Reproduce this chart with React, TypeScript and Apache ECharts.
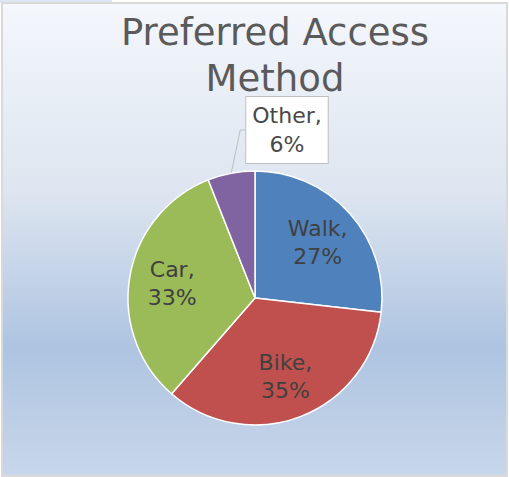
import React, { useEffect, useRef } from "react";
import * as echarts from "echarts";

const categories = ["Walk", "Bike", "Car", "Other"];
const values = [26.8, 34.6, 32.6, 6.0];
const colors = ["#4f81bd", "#c0504d", "#9bbb59", "#8064a2"];
const titleText = "Preferred Access\nMethod";

const FONT = "'DejaVu Sans', sans-serif";

export default function App() {
  const ref = useRef<HTMLDivElement>(null);
  useEffect(() => {
    if (!ref.current) return;
    const chart = echarts.init(ref.current, undefined, { renderer: "svg" });
    const data = categories.map((name, i) => ({
      name,
      value: values[i],
      itemStyle: { color: colors[i] },
    }));
    const fmt = (p: any) => `${p.name},\n${Math.round(p.value)}%`;
    const center = [252, 294];
    chart.setOption({
      animation: false,
      backgroundColor: new echarts.graphic.LinearGradient(0, 0, 0, 1, [
        { offset: 0, color: "#f4f7fc" },
        { offset: 0.4, color: "#dde5f0" },
        { offset: 0.73, color: "#aec4e1" },
        { offset: 1, color: "#c8d7ea" },
      ]),
      graphic: [
        {
          type: "text",
          x: 272,
          y: 5,
          silent: true,
          style: {
            text: titleText,
            align: "center",
            verticalAlign: "top",
            fontFamily: FONT,
            fontSize: 37,
            lineHeight: 46,
            fontWeight: "normal",
            fill: "#5a5a5a",
          },
        },
      ],
      series: [
        {
          type: "pie",
          center,
          radius: [0, 127],
          startAngle: 90,
          clockwise: true,
          data: data.map((d, i) => ({ ...d, label: { show: i === 3 }, labelLine: { show: i === 3 } })),
          itemStyle: { borderColor: "#ffffff", borderWidth: 1.5 },
          label: {
            position: "outside",
            formatter: fmt,
            fontFamily: FONT,
            fontSize: 22,
            lineHeight: 29,
            color: "#484848",
            backgroundColor: "#ffffff",
            borderColor: "#bfbfbf",
            borderWidth: 1,
            padding: [5, 6, 3, 6],
            align: "center",
          },
          labelLine: {
            length: 5,
            length2: 5,
            lineStyle: { color: "#bfbfbf", width: 1 },
          },
          labelLayout: (params: any) => {
            if (params.dataIndex === 3) {
              return { x: 284, y: 126, align: "center", verticalAlign: "middle" };
            }
            return {};
          },
          emphasis: { disabled: true },
        },
        {
          type: "pie",
          center,
          radius: [0, 162],
          startAngle: 90,
          clockwise: true,
          silent: true,
          data: data.map((d, i) => ({ ...d, itemStyle: { color: "transparent" }, label: { show: i !== 3 } })),
          label: {
            position: "inside",
            formatter: fmt,
            fontFamily: FONT,
            fontSize: 22,
            lineHeight: 28,
            color: "#404040",
          },
          labelLine: { show: false },
          emphasis: { disabled: true },
        },
      ],
    });
    return () => chart.dispose();
  }, []);
  return (
    <div style={{ position: "fixed", left: 0, top: 0, width: 509, height: 477, background: "#ffffff" }}>
      <div style={{ position: "absolute", left: 0, top: 0, width: 112, height: 3, background: "#dce6f2" }} />
      <div
        style={{
          position: "absolute",
          left: 1,
          top: 2,
          width: 507,
          height: 475,
          boxSizing: "border-box",
          border: "2px solid #d9d9d9",
        }}
      >
        <div ref={ref} style={{ width: 503, height: 471 }} />
      </div>
    </div>
  );
}
